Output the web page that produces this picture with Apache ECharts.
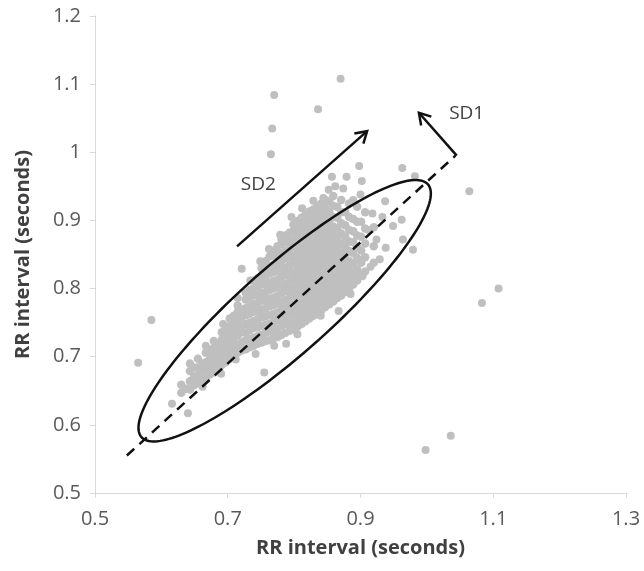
<!DOCTYPE html>
<html><head><meta charset="utf-8">
<script src="https://cdn.jsdelivr.net/npm/echarts@6/dist/echarts.min.js"></script>
<style>html,body{margin:0;padding:0;background:#fff}#c{width:644px;height:571px}</style>
</head><body><div id="c"></div>
<script>
// ---- data ----
const xTicks = [0.5, 0.7, 0.9, 1.1, 1.3];
const yTicks = [0.5, 0.6, 0.7, 0.8, 0.9, 1.0, 1.1, 1.2];
const axisTitle = 'RR interval (seconds)';

// isolated points
const outlierPoints = [
  [0.870,1.108],[0.770,1.084],[0.836,1.063],[0.767,1.035],[0.765,0.997],
  [1.064,0.943],[1.108,0.800],[1.083,0.779],[1.036,0.584],[0.998,0.563],
  [0.585,0.754],[0.565,0.691],[0.721,0.829],[0.788,0.719],[0.755,0.677],
  [0.616,0.631],[0.640,0.617],[0.867,0.767],[0.963,0.977],[0.982,0.965],
  [0.898,0.980],[0.879,0.964],[0.900,0.938],[0.937,0.928],[0.949,0.892],
  [0.962,0.901],[0.964,0.872],[0.979,0.857],[0.929,0.843],[0.862,0.950],
  [0.857,0.964],[0.844,0.933],[0.902,0.958]
];
// ragged points round the edge of the cloud
const edgePoints = [
  [0.734,0.812],[0.749,0.840],[0.762,0.858],[0.779,0.879],[0.796,0.905],
  [0.812,0.918],[0.829,0.929],[0.852,0.945],[0.874,0.947],[0.889,0.930],
  [0.903,0.818],[0.915,0.832],[0.938,0.860],[0.924,0.872],[0.912,0.886],
  [0.933,0.905],[0.918,0.910],[0.885,0.792],[0.840,0.760],[0.805,0.733],
  [0.770,0.716],[0.742,0.704],[0.712,0.696],[0.690,0.675],[0.662,0.656],
  [0.667,0.716],[0.693,0.748],[0.715,0.786]
];

// dense cloud, read column by column (x of column, y values in it)
const cloudColX = [0.630,0.643,0.655,0.667,0.679,0.691,0.703,0.715,0.727,0.739,0.751,0.763,0.775,0.787,0.799,0.811,0.823,0.835,0.847,0.859,0.871,0.883,0.895,0.907,0.920];
const cloudColY = [
  [0.647,0.659],
  [0.652,0.664,0.679,0.690],
  [0.661,0.673,0.684,0.697],
  [0.668,0.681,0.692,0.706],
  [0.677,0.689,0.700,0.713,0.723],
  [0.688,0.699,0.712,0.725,0.736],
  [0.697,0.710,0.721,0.734,0.745,0.756],
  [0.706,0.717,0.731,0.742,0.753,0.766,0.775],
  [0.711,0.724,0.735,0.748,0.761,0.771,0.784,0.794],
  [0.716,0.728,0.742,0.752,0.766,0.777,0.790,0.801,0.812],
  [0.721,0.732,0.745,0.758,0.769,0.782,0.793,0.806,0.817,0.830],
  [0.724,0.737,0.748,0.761,0.774,0.785,0.798,0.809,0.822,0.833,0.847],
  [0.729,0.741,0.754,0.765,0.778,0.789,0.802,0.813,0.826,0.837,0.850,0.862],
  [0.735,0.748,0.759,0.772,0.783,0.796,0.807,0.820,0.831,0.844,0.855,0.868,0.878],
  [0.740,0.752,0.765,0.776,0.789,0.800,0.813,0.824,0.837,0.848,0.861,0.872,0.885,0.894],
  [0.748,0.761,0.772,0.785,0.796,0.809,0.820,0.833,0.844,0.857,0.868,0.881,0.892,0.904],
  [0.756,0.768,0.781,0.792,0.805,0.816,0.829,0.840,0.853,0.864,0.877,0.888,0.901,0.913],
  [0.764,0.777,0.788,0.801,0.812,0.825,0.836,0.849,0.860,0.873,0.884,0.897,0.909,0.921],
  [0.773,0.785,0.798,0.809,0.822,0.833,0.846,0.857,0.870,0.881,0.894,0.906,0.918,0.930],
  [0.781,0.794,0.807,0.818,0.831,0.843,0.855,0.867,0.879,0.891,0.905,0.921,0.936],
  [0.790,0.803,0.816,0.828,0.841,0.853,0.866,0.881,0.896,0.912,0.930],
  [0.800,0.814,0.827,0.840,0.855,0.869,0.886,0.905,0.925],
  [0.812,0.828,0.845,0.861,0.878,0.898,0.920],
  [0.825,0.846,0.866,0.888,0.912],
  [0.838,0.862,0.890]
];
// second, interleaved reading of the same cloud (fills between the columns)
const cloudMidX = [0.637,0.649,0.661,0.673,0.685,0.697,0.709,0.721,0.733,0.745,0.757,0.769,0.781,0.793,0.805,0.817,0.829,0.841,0.853,0.865,0.877,0.889,0.901];
const cloudMidY = [
  [0.653],
  [0.658,0.671,0.684],
  [0.666,0.678,0.690],
  [0.674,0.686,0.697,0.709],
  [0.683,0.694,0.706,0.719],
  [0.692,0.704,0.716,0.729,0.740],
  [0.702,0.714,0.726,0.738,0.749,0.760],
  [0.709,0.721,0.736,0.745,0.758,0.769],
  [0.714,0.726,0.739,0.750,0.763,0.774,0.787,0.798],
  [0.719,0.730,0.743,0.755,0.767,0.779,0.791,0.803,0.815],
  [0.723,0.735,0.747,0.759,0.771,0.783,0.795,0.807,0.819,0.831,0.840],
  [0.727,0.739,0.751,0.763,0.776,0.787,0.800,0.811,0.824,0.835,0.848,0.856],
  [0.732,0.745,0.756,0.769,0.780,0.793,0.804,0.817,0.828,0.841,0.852,0.865,0.872],
  [0.738,0.750,0.762,0.774,0.786,0.798,0.810,0.822,0.834,0.846,0.858,0.870,0.882],
  [0.744,0.756,0.768,0.780,0.792,0.804,0.816,0.828,0.840,0.852,0.864,0.876,0.888,0.899],
  [0.752,0.764,0.776,0.788,0.800,0.812,0.824,0.836,0.848,0.860,0.872,0.884,0.896,0.908],
  [0.760,0.772,0.784,0.796,0.808,0.820,0.832,0.844,0.856,0.868,0.880,0.892,0.904,0.916],
  [0.768,0.781,0.793,0.805,0.817,0.829,0.841,0.853,0.865,0.877,0.889,0.901,0.914,0.925],
  [0.777,0.790,0.802,0.814,0.826,0.838,0.850,0.862,0.874,0.886,0.899,0.912,0.928],
  [0.786,0.798,0.811,0.823,0.836,0.848,0.860,0.873,0.888,0.904,0.920],
  [0.795,0.808,0.821,0.834,0.848,0.862,0.876,0.893,0.912],
  [0.806,0.821,0.836,0.852,0.868,0.884,0.902],
  [0.820,0.838,0.856,0.876,0.898]
];

// annotations
const majorAxisLine = [[0.548,0.555],[1.043,0.995]];
const ellipseTips = [[0.570,0.582],[1.0015,0.953]];
const ellipseSemiMinor = 0.066;
const sd2Arrow = [[0.714,0.862],[0.910,1.031]];
const sd1Arrow = [[1.045,0.995],[0.988,1.058]];
const annotLabels = [{text:'SD2', at:[0.746,0.953]},{text:'SD1', at:[1.060,1.057]}];

// ---- build ----
const cloudPoints = [];
cloudColX.forEach((x,i)=>cloudColY[i].forEach(y=>cloudPoints.push([x,y])));
cloudMidX.forEach((x,i)=>cloudMidY[i].forEach(y=>cloudPoints.push([x,y])));

const FONT = '"Open Sans", Lato, sans-serif';
const INK = '#111111';

function arrowEls(a, api){
  const p0 = api.coord(a[0]), p1 = api.coord(a[1]);
  const ang = Math.atan2(p1[1]-p0[1], p1[0]-p0[0]);
  const L = 13, w = 0.55;
  const h1 = [p1[0]-L*Math.cos(ang-w), p1[1]-L*Math.sin(ang-w)];
  const h2 = [p1[0]-L*Math.cos(ang+w), p1[1]-L*Math.sin(ang+w)];
  return [
    {type:'line', shape:{x1:p0[0],y1:p0[1],x2:p1[0],y2:p1[1]}, style:{stroke:INK,lineWidth:2.5}},
    {type:'polyline', shape:{points:[h1,p1,h2]}, style:{stroke:INK,fill:null,lineWidth:2.5}}
  ];
}

const chart = echarts.init(document.getElementById('c'), null, {renderer:'canvas'});
chart.setOption({
  animation:false,
  backgroundColor:'#ffffff',
  grid:{left:95, right:18, top:16, bottom:78, containLabel:false},
  xAxis:{
    type:'value', min:xTicks[0], max:xTicks[xTicks.length-1], interval:0.2,
    axisLine:{show:true, lineStyle:{color:'#d9d9d9', width:1}},
    axisTick:{show:true, length:5, lineStyle:{color:'#d9d9d9'}},
    splitLine:{show:false},
    axisLabel:{color:'#595959', fontSize:20, fontFamily:FONT, margin:16},
    name:axisTitle, nameLocation:'middle', nameGap:45,
    nameTextStyle:{color:'#404040', fontSize:20, fontWeight:'bold', fontFamily:FONT}
  },
  yAxis:{
    type:'value', min:yTicks[0], max:yTicks[yTicks.length-1], interval:0.1,
    axisLine:{show:true, lineStyle:{color:'#d9d9d9', width:1}},
    axisTick:{show:true, length:5, lineStyle:{color:'#d9d9d9'}},
    splitLine:{show:false},
    axisLabel:{color:'#595959', fontSize:20, fontFamily:FONT, margin:14},
    name:axisTitle, nameLocation:'middle', nameGap:62, nameRotate:90,
    nameTextStyle:{color:'#404040', fontSize:20, fontWeight:'bold', fontFamily:FONT}
  },
  series:[
    {type:'scatter', data:cloudPoints, symbolSize:8.5, itemStyle:{color:'#bfbfbf', opacity:1}, z:2},
    {type:'scatter', data:edgePoints, symbolSize:8, itemStyle:{color:'#bfbfbf', opacity:1}, z:2},
    {type:'scatter', data:outlierPoints, symbolSize:8, itemStyle:{color:'#bfbfbf', opacity:1}, z:2},
    {type:'line', data:majorAxisLine, symbol:'none', z:3,
      lineStyle:{color:INK, width:2.5, type:[10,7]}},
    {type:'custom', data:[[0.8,0.8]], z:4, clip:false,
      renderItem:function(params, api){
        const p1 = api.coord(ellipseTips[0]), p2 = api.coord(ellipseTips[1]);
        const cx=(p1[0]+p2[0])/2, cy=(p1[1]+p2[1])/2;
        const a = Math.hypot(p2[0]-p1[0], p2[1]-p1[1])/2;
        const s = api.size([ellipseSemiMinor, ellipseSemiMinor]);
        const b = (s[0]+s[1])/2;
        const ang = Math.atan2(p2[1]-p1[1], p2[0]-p1[0]);
        const pts=[];
        for(let i=0;i<=180;i++){
          const t=i/180*2*Math.PI, ex=a*Math.cos(t), ey=b*Math.sin(t);
          pts.push([cx+ex*Math.cos(ang)-ey*Math.sin(ang), cy+ex*Math.sin(ang)+ey*Math.cos(ang)]);
        }
        const children = [{type:'polygon', shape:{points:pts}, style:{fill:null, stroke:INK, lineWidth:2.5}}];
        children.push(...arrowEls(sd2Arrow, api));
        children.push(...arrowEls(sd1Arrow, api));
        annotLabels.forEach(l=>{
          const p = api.coord(l.at);
          children.push({type:'text', x:p[0], y:p[1], style:{text:l.text, fill:'#404040', font:'19px '+FONT, align:'center', verticalAlign:'middle'}});
        });
        return {type:'group', children:children};
      }
    }
  ]
});
</script>
</body></html>
